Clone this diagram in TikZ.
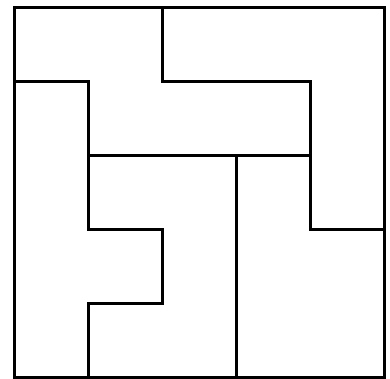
\documentclass[tikz,border=0pt]{standalone}
\usepackage{tikz}
\usetikzlibrary{arrows}

\begin{document}
\begin{tikzpicture}[teil/.style={line width=1.15pt, line join=miter}, x=1cm, y=1cm]
			%Bildbereich festlegen
			\useasboundingbox (-0.196,-0.016) rectangle (5.074,5.101);
			% Rahmen zeichnen
			\draw[teil] (0,0) rectangle (5,5);
			% Teile einzeichnen
			\draw[teil] (2,5) -- (2,4) -- (4,4) -- (4,2) -- (5,2);
			\draw[teil] (0,4) -- (1,4) -- (1,2) -- (2,2) -- (2,1) -- (1,1) -- (1,0);
			\draw[teil] (1,3) -- (4,3);
			\draw[teil] (3,3) -- (3,0);
		\end{tikzpicture}
\end{document}
